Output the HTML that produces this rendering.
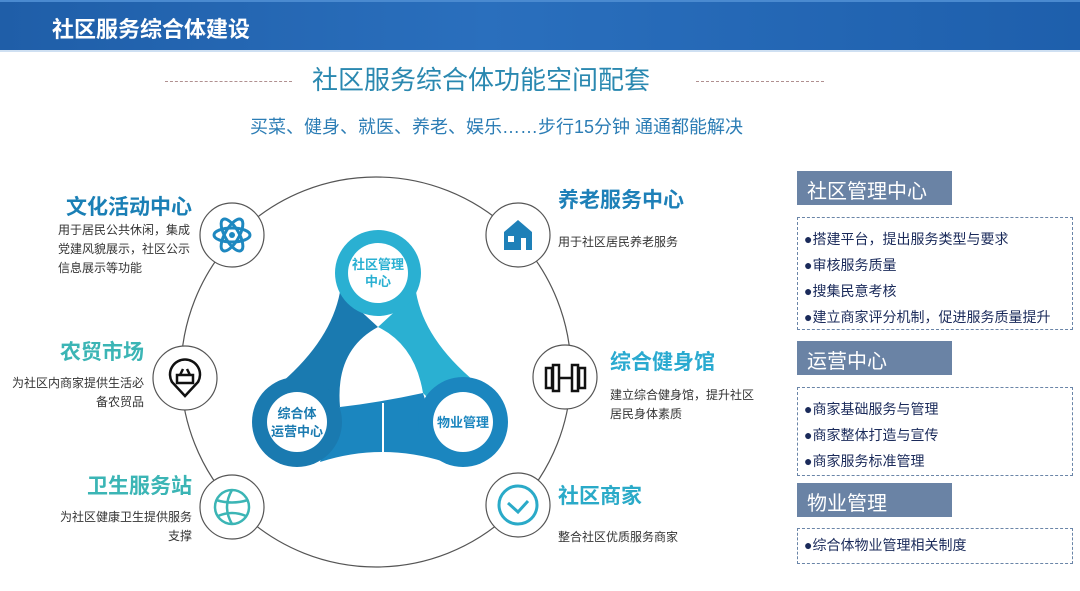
<!DOCTYPE html>
<html><head><meta charset="utf-8"><style>
*{margin:0;padding:0;box-sizing:border-box}
body{width:1080px;height:591px;overflow:hidden;background:#fff;font-family:"Liberation Sans","Noto Sans CJK SC",sans-serif;position:relative}
.a{position:absolute;white-space:nowrap}
.hdr{left:0;top:0;width:1080px;height:52px;background:linear-gradient(90deg,#1f5ea8 0%,#2a6fbd 45%,#1e5fac 100%);border-top:2px solid #4a8ad0;border-bottom:2px solid #cfe0f2}
.h1{left:52px;top:12px;font-size:22px;font-weight:bold;color:#fff}
.t{left:312px;top:60px;font-size:26px;color:#2a88b0}
.dl{height:0;border-top:1px dashed #b09090;top:81px}
.st{left:250px;top:113px;font-size:18px;color:#2c7db5}
.hd{font-size:21px;font-weight:bold;line-height:26px}
.ds{font-size:12px;color:#333;line-height:19px}
.r{text-align:right}
.ph{left:797px;width:155px;height:34px;background:#6a83a5;color:#fff;font-size:20px;padding:4px 0 0 10px}
.bx{left:797px;width:276px;border:1.5px dashed #6a85a8}
.it{font-size:14px;color:#1a2a5a;line-height:26px;padding-left:6px}
</style></head><body>
<div class="a hdr"></div>
<div class="a h1">社区服务综合体建设</div>
<div class="a t">社区服务综合体功能空间配套</div>
<div class="a dl" style="left:165px;width:127px"></div>
<div class="a dl" style="left:696px;width:128px"></div>
<div class="a st">买菜、健身、就医、养老、娱乐……步行15分钟 通通都能解决</div>

<svg class="a" style="left:0;top:0" width="1080" height="591">
<circle cx="376" cy="372" r="195" fill="none" stroke="#555" stroke-width="1.2"/>
<path d="M340 292 Q330 345 270 392 L335 420 L340 407 Q335 350 378 327 Z" fill="#1a7ab0"/>
<path d="M416 292 Q425 345 488 392 L430 400 L423 393 Q415 345 378 327 Z" fill="#2ab0d2"/>
<path d="M340 407 Q382 402 423 393 L445 462 Q382 442 320 462 Z" fill="#1b86bf"/>
<line x1="383" y1="403" x2="383" y2="452" stroke="#fff" stroke-width="2"/>
<circle cx="378" cy="273" r="43" fill="#2ab0d2"/><circle cx="378" cy="273" r="30" fill="#fff"/>
<circle cx="297" cy="422" r="45" fill="#1a7ab0"/><circle cx="297" cy="422" r="30" fill="#fff"/>
<circle cx="463" cy="422" r="45" fill="#1b86bf"/><circle cx="463" cy="422" r="30" fill="#fff"/>
<g font-family="Liberation Sans,Noto Sans CJK SC,sans-serif" font-weight="bold" font-size="13" text-anchor="middle">
<text x="378" y="269" fill="#2ab0d2">社区管理</text><text x="378" y="286" fill="#2ab0d2">中心</text>
<text x="297" y="418" fill="#1a7ab0">综合体</text><text x="297" y="436" fill="#1a7ab0">运营中心</text>
<text x="463" y="427" fill="#1b86bf">物业管理</text>
</g>
<g fill="#fff" stroke="#555" stroke-width="1.2">
<circle cx="232" cy="235" r="32"/><circle cx="518" cy="235" r="32"/>
<circle cx="185" cy="378" r="32"/><circle cx="565" cy="377" r="32"/>
<circle cx="232" cy="507" r="32"/><circle cx="518" cy="505" r="32"/>
</g>
<g fill="none" stroke="#1e88c0" stroke-width="3">
<ellipse cx="232" cy="235" rx="18" ry="7"/><ellipse cx="232" cy="235" rx="18" ry="7" transform="rotate(60 232 235)"/><ellipse cx="232" cy="235" rx="18" ry="7" transform="rotate(-60 232 235)"/>
</g>
<circle cx="232" cy="235" r="3" fill="#1e88c0"/>
<path d="M504 232 L518 220 L532 232 L532 250 L504 250 Z" fill="#1e80b8"/><rect x="508" y="236" width="6" height="6" fill="#fff"/><rect x="521" y="238" width="5" height="12" fill="#fff"/>
<g fill="none" stroke="#111" stroke-width="2.5">
<path d="M185 396 L172 382 A15 15 0 1 1 198 382 Z"/><path d="M177 375 h16 v8 h-16 z M180 375 l3 -6 M190 375 l-3 -6"/>
<rect x="546" y="368" width="6" height="20"/><rect x="553" y="365" width="6" height="26"/><rect x="572" y="365" width="6" height="26"/><rect x="579" y="368" width="6" height="20"/><line x1="559" y1="378" x2="572" y2="378"/>
</g>
<g fill="none" stroke="#3bb5b5" stroke-width="2.5"><circle cx="232" cy="507" r="17"/><path d="M216 500 Q232 505 248 500 M218 516 Q232 510 246 516 M232 490 Q222 507 232 524"/></g>
<g fill="none" stroke="#2aaac8" stroke-width="3"><circle cx="518" cy="505" r="19"/><path d="M508 503 l10 9 l10 -11"/></g>
</svg>

<div class="a hd r" style="right:888px;top:195px;color:#1a7fb5">文化活动中心</div>
<div class="a ds" style="left:58px;top:221px">用于居民公共休闲，集成<br>党建风貌展示，社区公示<br>信息展示等功能</div>
<div class="a hd r" style="right:936px;top:340px;color:#3bb5b5">农贸市场</div>
<div class="a ds r" style="right:936px;top:374px">为社区内商家提供生活必<br>备农贸品</div>
<div class="a hd r" style="right:888px;top:474px;color:#3bb5b5">卫生服务站</div>
<div class="a ds r" style="right:888px;top:508px;line-height:19px">为社区健康卫生提供服务<br>支撑</div>
<div class="a hd" style="left:558px;top:188px;color:#1e80b8">养老服务中心</div>
<div class="a ds" style="left:558px;top:233px">用于社区居民养老服务</div>
<div class="a hd" style="left:610px;top:350px;color:#2aaad0">综合健身馆</div>
<div class="a ds" style="left:610px;top:386px">建立综合健身馆，提升社区<br>居民身体素质</div>
<div class="a hd" style="left:558px;top:484px;color:#2aaac8">社区商家</div>
<div class="a ds" style="left:558px;top:528px">整合社区优质服务商家</div>

<div class="a ph" style="top:171px">社区管理中心</div>
<div class="a bx" style="top:217px;height:113px;padding-top:8px"><div class="it">●搭建平台，提出服务类型与要求<br>●审核服务质量<br>●搜集民意考核<br>●建立商家评分机制，促进服务质量提升</div></div>
<div class="a ph" style="top:341px">运营中心</div>
<div class="a bx" style="top:387px;height:89px;padding-top:8px"><div class="it">●商家基础服务与管理<br>●商家整体打造与宣传<br>●商家服务标准管理</div></div>
<div class="a ph" style="top:483px">物业管理</div>
<div class="a bx" style="top:528px;height:36px;padding-top:3px"><div class="it">●综合体物业管理相关制度</div></div>
</body></html>
